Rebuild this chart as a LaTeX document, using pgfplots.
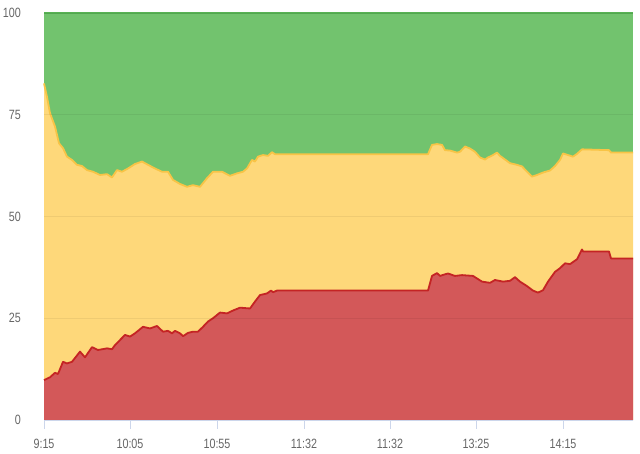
\documentclass[border=0pt]{standalone}
\usepackage{pgfplots}
\usepackage{pgfplotstable}
\pgfplotsset{compat=1.18}
\usepackage{fontspec}
\setmainfont{Liberation Sans}[FakeStretch=0.8]
\definecolor{gfill}{RGB}{114,195,110}
\definecolor{gline}{RGB}{88,178,84}
\definecolor{yfill}{RGB}{254,216,122}
\definecolor{yline}{RGB}{248,196,70}
\definecolor{rfill}{RGB}{211,88,89}
\definecolor{rline}{RGB}{196,36,36}
\definecolor{axc}{RGB}{204,214,235}
\definecolor{labc}{RGB}{102,102,102}
\pgfplotstableread{
x y
0 82.7
3 79.4
6 75.4
11 72.1
15 68.0
19 66.8
23 64.7
28 63.9
33 62.7
38 62.4
43 61.4
49 61.0
56 60.2
63 60.4
68 59.6
73 61.4
78 61.0
84 61.8
91 62.9
98 63.5
104 62.7
111 61.8
118 61.0
124 61.0
129 59.0
136 58.0
143 57.3
149 57.7
156 57.3
163 59.4
169 61.0
178 61.0
186 60.0
193 60.6
199 61.0
203 61.8
208 63.9
211 63.5
214 64.7
219 65.1
224 64.9
228 65.8
231 65.3
384 65.3
388 67.6
393 67.8
398 67.6
401 66.3
406 66.2
413 65.7
416 65.9
421 67.2
426 66.7
431 65.9
436 64.5
441 64.0
444 64.5
449 65.1
453 65.7
456 64.9
461 64.0
466 63.1
473 62.7
478 62.3
483 61.0
488 59.8
493 60.2
499 60.8
506 61.3
511 62.4
516 63.9
519 65.5
524 65.1
529 64.7
533 65.4
538 66.5
565 66.3
567 65.7
589 65.7
}\topdata
\pgfplotstableread{
x y
0 9.8
6 10.5
11 11.6
14 11.3
19 14.3
23 13.9
28 14.3
36 16.8
41 15.4
48 17.9
54 17.2
63 17.6
68 17.4
71 18.4
81 20.9
86 20.5
91 21.3
99 22.9
106 22.5
113 23.1
119 21.7
124 21.9
128 21.3
131 21.9
136 21.3
139 20.6
144 21.4
149 21.7
154 21.7
159 22.9
164 24.2
169 25.0
176 26.4
183 26.2
189 26.9
196 27.6
206 27.4
211 29.1
216 30.7
223 31.1
227 31.8
229 31.4
233 31.8
384 31.8
388 35.4
393 36.1
396 35.4
401 35.8
404 36.0
411 35.4
418 35.6
429 35.4
438 34.0
446 33.7
451 34.4
459 34.0
466 34.2
471 35.1
476 34.0
483 32.9
489 31.8
494 31.3
499 31.9
504 34.0
511 36.4
516 37.3
521 38.5
526 38.3
533 39.5
538 41.9
539 41.4
565 41.4
567 39.7
589 39.7
}\reddata
\begin{document}
\begin{tikzpicture}
\begin{axis}[
  at={(0,0)}, anchor=south west,
  scale only axis, width=589bp, height=407bp,
  xmin=0, xmax=589, ymin=0, ymax=100,
  enlargelimits=false, clip=false,
  axis on top,
  axis x line*=bottom, axis y line*=left,
  axis line style={-},
  x axis line style={draw=axc, line width=1bp},
  y axis line style={draw=none},
  xtick={0,86,173,260,346,432,519},
  xticklabels={9:15,10:05,10:55,11:32,11:32,13:25,14:15},
  ytick={0,25,50,75,100},
  xtick style={draw=axc, line width=1bp},
  ytick style={draw=none},
  major tick length=9bp, tick align=outside,
  ymajorgrids, grid style={black, opacity=0.06, line width=0.8bp},
  /pgf/number format/assume math mode=true,
  ticklabel style={font=\fontsize{13.5}{14}\selectfont, text=labc, inner sep=0pt},
  yticklabel style={anchor=east, xshift=-14bp},
  xticklabel style={anchor=north, yshift=-10bp},
]
% green: full band up to 100
\addplot[draw=none, fill=gfill] coordinates {(0,100)(589,100)} \closedcycle;
\addplot[draw=gline, line width=1.6bp] coordinates {(0,100)(589,100)};
% yellow: cumulative top boundary (yellow + red)
\addplot[draw=none, fill=yfill] table {\topdata} \closedcycle;
\addplot[draw=yline, line width=1.8bp, line join=round] table {\topdata};
% red: bottom series
\addplot[draw=none, fill=rfill] table {\reddata} \closedcycle;
\addplot[draw=rline, line width=1.8bp, line join=round] table {\reddata};
\end{axis}
\pgfresetboundingbox
\path[use as bounding box] (-44bp,-34bp) rectangle (596bp,420bp);
\end{tikzpicture}
\end{document}
